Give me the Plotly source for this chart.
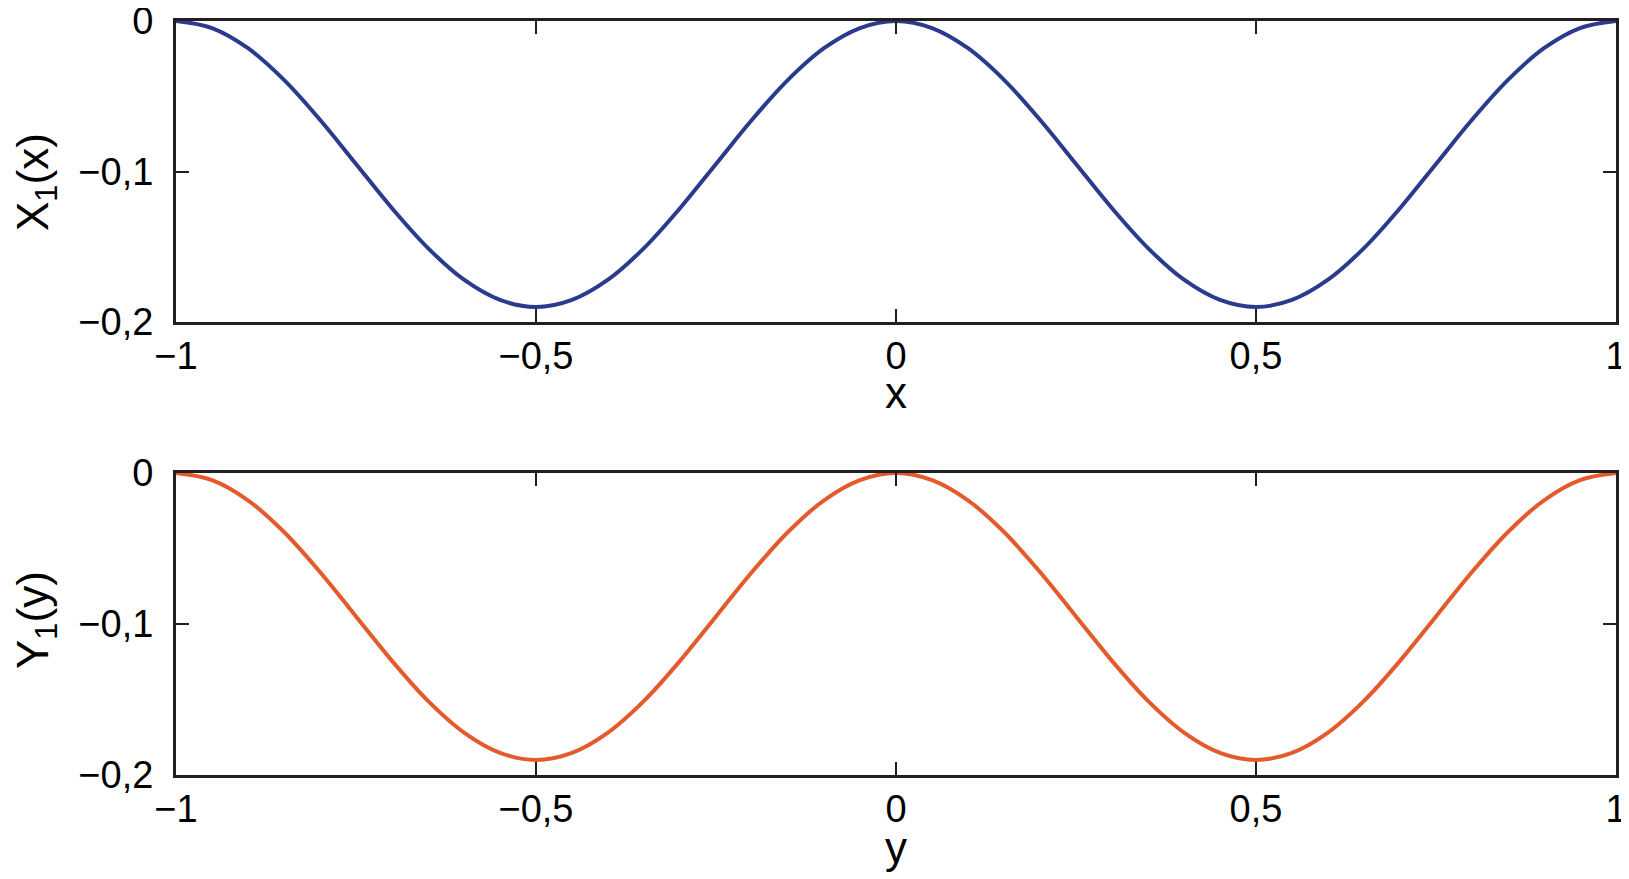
import plotly.graph_objects as go
from plotly.subplots import make_subplots

# sample positions read along the horizontal axis (x and y share the same grid)
grid = [-1.0, -0.95, -0.9, -0.85, -0.8, -0.75, -0.7, -0.65, -0.6, -0.55, -0.5,
        -0.45, -0.4, -0.35, -0.3, -0.25, -0.2, -0.15, -0.1, -0.05, 0.0,
        0.05, 0.1, 0.15, 0.2, 0.25, 0.3, 0.35, 0.4, 0.45, 0.5,
        0.55, 0.6, 0.65, 0.7, 0.75, 0.8, 0.85, 0.9, 0.95, 1.0]

# X1(x)
x1_vals = [0.0, -0.0047, -0.0181, -0.0391, -0.0656, -0.095, -0.1244, -0.1509, -0.1719, -0.1853, -0.19,
           -0.1853, -0.1719, -0.1509, -0.1244, -0.095, -0.0656, -0.0391, -0.0181, -0.0047, 0.0,
           -0.0047, -0.0181, -0.0391, -0.0656, -0.095, -0.1244, -0.1509, -0.1719, -0.1853, -0.19,
           -0.1853, -0.1719, -0.1509, -0.1244, -0.095, -0.0656, -0.0391, -0.0181, -0.0047, 0.0]

# Y1(y)
y1_vals = [0.0, -0.0047, -0.0181, -0.0391, -0.0656, -0.095, -0.1244, -0.1509, -0.1719, -0.1853, -0.19,
           -0.1853, -0.1719, -0.1509, -0.1244, -0.095, -0.0656, -0.0391, -0.0181, -0.0047, 0.0,
           -0.0047, -0.0181, -0.0391, -0.0656, -0.095, -0.1244, -0.1509, -0.1719, -0.1853, -0.19,
           -0.1853, -0.1719, -0.1509, -0.1244, -0.095, -0.0656, -0.0391, -0.0181, -0.0047, 0.0]

x_tickvals = [-1, -0.5, 0, 0.5, 1]
x_ticktext = ["\u22121", "\u22120,5", "0", "0,5", "1"]
y_tickvals = [-0.2, -0.1, 0]
y_ticktext = ["\u22120,2", "\u22120,1", "0"]

# the page body keeps its default 8px margin, so the figure is made that much
# smaller and screen positions are converted with this offset
OFF = 8
W, H = 1629 - OFF, 879 - OFF
FONT = "Liberation Sans, Arial, Helvetica, sans-serif"
AXIS = "#231f20"
FS = 38
TFS = 44


def px(sx):
    return (sx - OFF) / W


def py(sy):
    return 1 - (sy - OFF) / H


fig = make_subplots(rows=2, cols=1)
fig.add_trace(go.Scatter(x=grid, y=x1_vals, mode="lines", line_shape="spline",
                         line=dict(color="#2b3a8f", width=4)), row=1, col=1)
fig.add_trace(go.Scatter(x=grid, y=y1_vals, mode="lines", line_shape="spline",
                         line=dict(color="#e35a2b", width=4)), row=2, col=1)

common_x = dict(range=[-1, 1], tickvals=x_tickvals, ticktext=x_ticktext,
                ticks="inside", ticklen=13, tickwidth=2, tickcolor=AXIS,
                showline=True, linewidth=3, linecolor=AXIS, mirror="ticks",
                showgrid=False, zeroline=False, automargin=False,
                tickfont=dict(size=FS, color="black"), ticklabelstandoff=-2,
                ticklabeloverflow="allow",
                domain=[px(176), px(1616)])
common_y = dict(range=[-0.2, 0], tickvals=y_tickvals, ticktext=y_ticktext,
                ticks="inside", ticklen=13, tickwidth=2, tickcolor=AXIS,
                showline=True, linewidth=3, linecolor=AXIS, mirror="ticks",
                showgrid=False, zeroline=False, automargin=False,
                tickfont=dict(size=FS, color="black"), ticklabelstandoff=12,
                ticklabeloverflow="allow")

fig.update_xaxes(**common_x)
fig.update_yaxes(**common_y)
fig.update_yaxes(domain=[py(322), py(21)], row=1, col=1)
fig.update_yaxes(domain=[py(775), py(473)], row=2, col=1)

# axis titles placed as annotations in paper coordinates
titles = [
    ("x", px(896), py(392), 0),
    ("y", px(896), py(847), 0),
    ("X<sub>1</sub>(x)", px(36), py(182), -90),
    ("Y<sub>1</sub>(y)", px(36), py(620), -90),
]
for text, ax_x, ax_y, angle in titles:
    fig.add_annotation(text=text, x=ax_x, y=ax_y, xref="paper", yref="paper",
                       xanchor="center", yanchor="middle", textangle=angle,
                       showarrow=False, font=dict(size=TFS, color="black"))

fig.update_layout(width=W, height=H, margin=dict(l=0, r=0, t=0, b=0),
                  plot_bgcolor="white", paper_bgcolor="white",
                  showlegend=False, font=dict(family=FONT, color="black"))

fig.write_html("out.html")
